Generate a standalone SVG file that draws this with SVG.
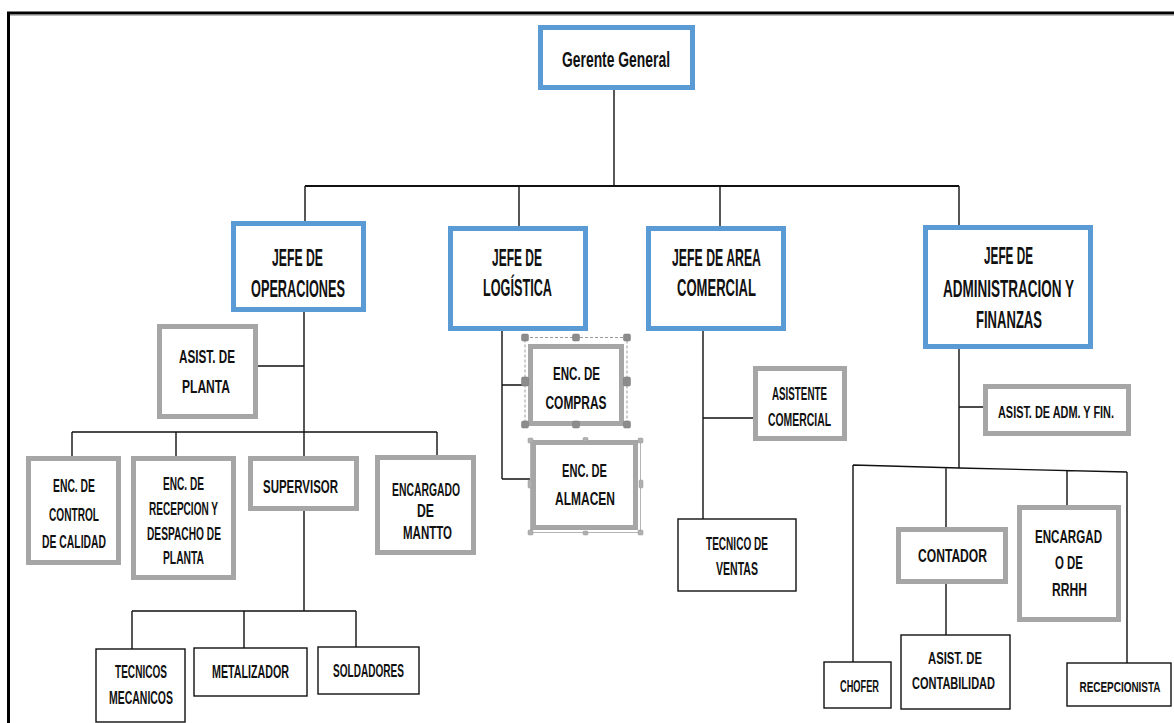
<svg xmlns="http://www.w3.org/2000/svg" width="1174" height="723" viewBox="0 0 1174 723">
<style>
text{font-family:"Liberation Sans",Arial,sans-serif;font-weight:bold;fill:#111;text-anchor:middle}
.h{font-size:23px}
.g{font-size:22px}
.s{font-size:18.5px}
.t{font-size:16px}
.blue{fill:#fff;stroke:#5B9BD5;stroke-width:5}
.gray{fill:#fff;stroke:#A6A6A6;stroke-width:5}
.thin{fill:#fff;stroke:#111;stroke-width:1.4}
.con path{fill:none;stroke:#111;stroke-width:1.4}
.hd{fill:#8C8C8C;stroke:#777;stroke-width:0.5}
.hl{fill:#B0B0B0;stroke:#999;stroke-width:0.5}
</style>
<rect width="1174" height="723" fill="#fff"/>
<path d="M8.5 723 V13 H1174" fill="none" stroke="#000" stroke-width="3"/>
<path d="M10 15.5 H1174" fill="none" stroke="#BDBDBD" stroke-width="1"/>

<g id="connectors" class="con">
<path d="M614 90 V186"/>
<path d="M305 186 H959" style="stroke-width:1.8"/>
<path d="M305 186 V221 M519 186 V226 M720 186 V226 M959 186 V225"/>
<path d="M304 312 V458 M252 366 H304"/>
<path d="M72 432 H437 M72 432 V456 M176 432 V456 M437 432 V455"/>
<path d="M304 511 V611 M132 611 H356 M132 611 V649 M244 611 V648 M356 611 V647"/>
<path d="M502 331 V479 M502 385 H528 M502 479 H532"/>
<path d="M703 331 V519 M703 418 H753"/>
<path d="M959 349 V468 M959 407 H983"/>
<path d="M853 465 L959 468 L1127 472 M853 465 V662 M946 467 V527 M1067 470 V505 M1127 472 V663"/>
<path d="M946 584 V635"/>
</g>

<g id="gerente">
<rect class="blue" x="540.5" y="27.5" width="152" height="60"/>
<text class="g" x="616" y="67" textLength="108" lengthAdjust="spacingAndGlyphs">Gerente General</text>
</g>

<g id="jefe-operaciones">
<rect class="blue" x="233.5" y="223.5" width="130" height="86"/>
<text class="h" x="297.5" y="266" textLength="51" lengthAdjust="spacingAndGlyphs">JEFE DE</text>
<text class="h" x="298" y="297" textLength="94" lengthAdjust="spacingAndGlyphs">OPERACIONES</text>
</g>

<g id="jefe-logistica">
<rect class="blue" x="450.5" y="228.5" width="135" height="100"/>
<text class="h" x="517" y="266" textLength="50" lengthAdjust="spacingAndGlyphs">JEFE DE</text>
<text class="h" x="517.5" y="296" textLength="69" lengthAdjust="spacingAndGlyphs">LOGÍSTICA</text>
</g>

<g id="jefe-comercial">
<rect class="blue" x="648.5" y="228.5" width="135" height="100"/>
<text class="h" x="716.5" y="266" textLength="89" lengthAdjust="spacingAndGlyphs">JEFE DE AREA</text>
<text class="h" x="716.5" y="296" textLength="79" lengthAdjust="spacingAndGlyphs">COMERCIAL</text>
</g>

<g id="jefe-administracion">
<rect class="blue" x="925.5" y="227.5" width="165" height="119"/>
<text class="h" x="1008.5" y="264" textLength="49" lengthAdjust="spacingAndGlyphs">JEFE DE</text>
<text class="h" x="1008.5" y="297" textLength="131" lengthAdjust="spacingAndGlyphs">ADMINISTRACION Y</text>
<text class="h" x="1009" y="328" textLength="66" lengthAdjust="spacingAndGlyphs">FINANZAS</text>
</g>

<g id="asist-planta">
<rect class="gray" x="159.5" y="326.5" width="96" height="90"/>
<text class="s" x="207" y="363" textLength="56" lengthAdjust="spacingAndGlyphs">ASIST. DE</text>
<text class="s" x="206" y="393" textLength="48" lengthAdjust="spacingAndGlyphs">PLANTA</text>
</g>

<g id="enc-control-calidad">
<rect class="gray" x="28.5" y="458.5" width="90" height="104"/>
<text class="s" x="74" y="492" textLength="42" lengthAdjust="spacingAndGlyphs">ENC. DE</text>
<text class="s" x="74" y="521" textLength="50" lengthAdjust="spacingAndGlyphs">CONTROL</text>
<text class="s" x="74" y="548" textLength="64" lengthAdjust="spacingAndGlyphs">DE CALIDAD</text>
</g>

<g id="enc-recepcion">
<rect class="gray" x="133.5" y="458.5" width="100" height="119"/>
<text class="s" x="183.5" y="490" textLength="41" lengthAdjust="spacingAndGlyphs">ENC. DE</text>
<text class="s" x="183.5" y="515" textLength="69" lengthAdjust="spacingAndGlyphs">RECEPCION Y</text>
<text class="s" x="184" y="540" textLength="74" lengthAdjust="spacingAndGlyphs">DESPACHO DE</text>
<text class="s" x="183.5" y="564" textLength="41" lengthAdjust="spacingAndGlyphs">PLANTA</text>
</g>

<g id="supervisor">
<rect class="gray" x="250.5" y="458.5" width="106" height="50"/>
<text class="s" x="300.5" y="493" textLength="75" lengthAdjust="spacingAndGlyphs">SUPERVISOR</text>
</g>

<g id="encargado-mantto">
<rect class="gray" x="377.5" y="457.5" width="96" height="95"/>
<text class="s" x="426" y="496" textLength="68" lengthAdjust="spacingAndGlyphs">ENCARGADO</text>
<text class="s" x="425.5" y="517" textLength="17" lengthAdjust="spacingAndGlyphs">DE</text>
<text class="s" x="427.5" y="539" textLength="49" lengthAdjust="spacingAndGlyphs">MANTTO</text>
</g>

<g id="tecnicos-mecanicos">
<rect class="thin" x="96" y="649" width="89" height="73"/>
<text class="s" x="141" y="678" textLength="52" lengthAdjust="spacingAndGlyphs">TECNICOS</text>
<text class="s" x="141" y="704" textLength="64" lengthAdjust="spacingAndGlyphs">MECANICOS</text>
</g>

<g id="metalizador">
<rect class="thin" x="194" y="648" width="113" height="48"/>
<text class="s" x="250.5" y="678" textLength="77" lengthAdjust="spacingAndGlyphs">METALIZADOR</text>
</g>

<g id="soldadores">
<rect class="thin" x="318" y="647" width="101" height="47"/>
<text class="s" x="368.5" y="677" textLength="71" lengthAdjust="spacingAndGlyphs">SOLDADORES</text>
</g>

<g id="enc-compras">
<rect x="525" y="337.5" width="102" height="88" fill="none" stroke="#999" stroke-width="1" stroke-dasharray="3 2"/>
<rect class="gray" x="530.5" y="346.5" width="91" height="77"/>
<text class="s" x="576.5" y="380" textLength="47" lengthAdjust="spacingAndGlyphs">ENC. DE</text>
<text class="s" x="576" y="409" textLength="61" lengthAdjust="spacingAndGlyphs">COMPRAS</text>
<rect class="hd" x="521.5" y="334" width="7" height="7" rx="1.5"/>
<rect class="hd" x="572.5" y="334" width="7" height="7" rx="1.5"/>
<rect class="hd" x="623.5" y="334" width="7" height="7" rx="1.5"/>
<rect class="hd" x="521.5" y="377" width="7" height="9" rx="1.5"/>
<rect class="hd" x="623.5" y="377" width="7" height="9" rx="1.5"/>
<rect class="hd" x="521.5" y="421" width="7" height="7" rx="1.5"/>
<rect class="hd" x="572.5" y="421" width="7" height="7" rx="1.5"/>
<rect class="hd" x="623.5" y="421" width="7" height="7" rx="1.5"/>
</g>

<g id="enc-almacen">
<rect x="530.5" y="440.5" width="110" height="92" fill="none" stroke="#B5B5B5" stroke-width="1"/>
<rect class="gray" x="533.5" y="442.5" width="102" height="85"/>
<text class="s" x="584.5" y="477" textLength="45" lengthAdjust="spacingAndGlyphs">ENC. DE</text>
<text class="s" x="585" y="505" textLength="60" lengthAdjust="spacingAndGlyphs">ALMACEN</text>
<rect class="hl" x="528" y="438" width="5" height="5" rx="1"/>
<rect class="hl" x="583" y="437.5" width="5" height="4" rx="1"/>
<rect class="hl" x="638" y="438" width="5" height="5" rx="1"/>
<rect class="hl" x="528" y="480" width="4" height="8" rx="1"/>
<rect class="hl" x="639" y="480" width="4" height="8" rx="1"/>
<rect class="hl" x="528" y="530" width="5" height="5" rx="1"/>
<rect class="hl" x="583" y="531" width="5" height="4" rx="1"/>
<rect class="hl" x="638" y="530" width="5" height="5" rx="1"/>
</g>

<g id="asistente-comercial">
<rect class="gray" x="755.5" y="368.5" width="89" height="70"/>
<text class="s" x="799.5" y="400" textLength="55" lengthAdjust="spacingAndGlyphs">ASISTENTE</text>
<text class="s" x="799.5" y="426" textLength="63" lengthAdjust="spacingAndGlyphs">COMERCIAL</text>
</g>

<g id="tecnico-ventas">
<rect class="thin" x="678" y="519" width="118" height="72"/>
<text class="s" x="737" y="550" textLength="62" lengthAdjust="spacingAndGlyphs">TECNICO DE</text>
<text class="s" x="737" y="575" textLength="42" lengthAdjust="spacingAndGlyphs">VENTAS</text>
</g>

<g id="asist-adm-fin">
<rect class="gray" x="985.5" y="386.5" width="143" height="47"/>
<text class="t" x="1056" y="418" textLength="116" lengthAdjust="spacingAndGlyphs">ASIST. DE ADM. Y FIN.</text>
</g>

<g id="chofer">
<rect class="thin" x="824" y="662" width="67" height="46"/>
<text class="t" x="859.5" y="692" textLength="39" lengthAdjust="spacingAndGlyphs">CHOFER</text>
</g>

<g id="contador">
<rect class="gray" x="898.5" y="529.5" width="107" height="52"/>
<text class="s" x="952.5" y="562" textLength="69" lengthAdjust="spacingAndGlyphs">CONTADOR</text>
</g>

<g id="asist-contabilidad">
<rect class="thin" x="901" y="635" width="109" height="74"/>
<text class="t" x="955" y="664" textLength="54" lengthAdjust="spacingAndGlyphs">ASIST. DE</text>
<text class="t" x="953.5" y="689" textLength="83" lengthAdjust="spacingAndGlyphs">CONTABILIDAD</text>
</g>

<g id="encargado-rrhh">
<rect class="gray" x="1019.5" y="507.5" width="99" height="112"/>
<text class="s" x="1068.5" y="543" textLength="67" lengthAdjust="spacingAndGlyphs">ENCARGAD</text>
<text class="s" x="1069" y="569" textLength="28" lengthAdjust="spacingAndGlyphs">O DE</text>
<text class="s" x="1069.5" y="596" textLength="35" lengthAdjust="spacingAndGlyphs">RRHH</text>
</g>

<g id="recepcionista">
<rect class="thin" x="1067" y="663" width="104" height="43"/>
<text x="1120" y="692" style="font-size:15px" textLength="81" lengthAdjust="spacingAndGlyphs">RECEPCIONISTA</text>
</g>
</svg>
